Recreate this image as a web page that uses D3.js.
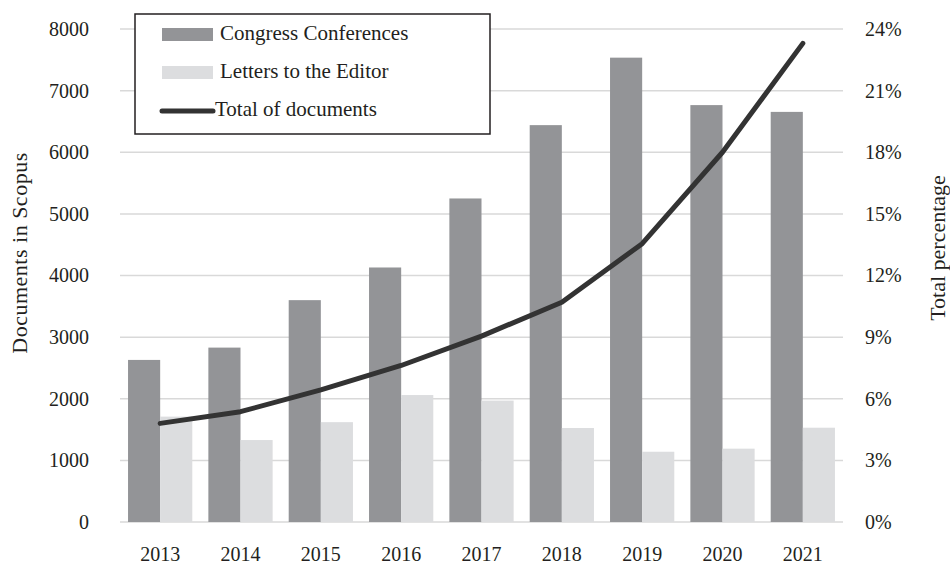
<!DOCTYPE html>
<html lang="en">
<head>
  <meta charset="UTF-8">
  <title>Documents in Scopus</title>
  <script src="https://cdn.jsdelivr.net/npm/d3@7"></script>
  <style>
    body { margin: 0; background: #fff; }
    text { font-family: "Liberation Serif", "DejaVu Serif", serif; fill: #231f20; }
    .tick text { font-size: 20px; }
    .axis-title { font-size: 22px; }
    .legend-text { font-size: 21px; }
  </style>
</head>
<body>
  <div id="container"></div>
  <script>
    const years = ["2013", "2014", "2015", "2016", "2017", "2018", "2019", "2020", "2021"];
    const congress = [2630, 2830, 3600, 4130, 5250, 6440, 7535, 6765, 6655];
    const letters = [1710, 1330, 1620, 2060, 1970, 1525, 1140, 1190, 1530];
    const totalPct = [4.8, 5.37, 6.43, 7.62, 9.05, 10.7, 13.55, 18.0, 23.3];
    const leftTicks = [0, 1000, 2000, 3000, 4000, 5000, 6000, 7000, 8000];
    const rightTicks = [0, 3, 6, 9, 12, 15, 18, 21, 24];

    // colours
    const darkGrey = "#939497";
    const lightGrey = "#dcdddf";
    const gridGrey = "#d9d9d9";
    const lineColor = "#333333";

    const width = 950;
    const height = 564;
    const margin = { top: 29, right: 107, bottom: 42, left: 120 };
    const innerW = width - margin.left - margin.right;
    const innerH = height - margin.top - margin.bottom;

    const svg = d3.select("#container")
      .append("svg")
      .attr("width", width)
      .attr("height", height);

    const g = svg.append("g")
      .attr("transform", `translate(${margin.left},${margin.top})`);

    // scales
    const x = d3.scaleBand().domain(years).range([0, innerW]).padding(0);
    const sub = d3.scaleBand().domain(["c", "l"]).range([0, x.bandwidth()]).paddingInner(0).paddingOuter(0.25);
    const yLeft = d3.scaleLinear().domain([0, 8000]).range([innerH, 0]);
    const yRight = d3.scaleLinear().domain([0, 24]).range([innerH, 0]);

    // gridlines
    g.append("g")
      .selectAll("line")
      .data(leftTicks)
      .enter()
      .append("line")
      .attr("x1", 0)
      .attr("x2", innerW)
      .attr("y1", d => yLeft(d))
      .attr("y2", d => yLeft(d))
      .attr("stroke", gridGrey)
      .attr("stroke-width", 1.5);

    // bars
    const groups = g.selectAll(".year")
      .data(years)
      .enter()
      .append("g")
      .attr("class", "year")
      .attr("transform", d => `translate(${x(d)},0)`);

    groups.append("rect")
      .attr("x", sub("c"))
      .attr("width", sub.bandwidth())
      .attr("y", (d, i) => yLeft(congress[i]))
      .attr("height", (d, i) => innerH - yLeft(congress[i]))
      .attr("fill", darkGrey);

    groups.append("rect")
      .attr("x", sub("l"))
      .attr("width", sub.bandwidth())
      .attr("y", (d, i) => yLeft(letters[i]))
      .attr("height", (d, i) => innerH - yLeft(letters[i]))
      .attr("fill", lightGrey);

    // line
    const line = d3.line()
      .x((d, i) => x(years[i]) + x.bandwidth() / 2)
      .y(d => yRight(d));

    g.append("path")
      .datum(totalPct)
      .attr("d", line)
      .attr("fill", "none")
      .attr("stroke", lineColor)
      .attr("stroke-width", 5)
      .attr("stroke-linecap", "round")
      .attr("stroke-linejoin", "round");

    // axes
    const leftAxis = g.append("g")
      .call(d3.axisLeft(yLeft).tickValues(leftTicks).tickSize(0).tickPadding(31).tickFormat(d3.format("d")));
    leftAxis.select(".domain").remove();

    const rightAxis = g.append("g")
      .attr("transform", `translate(${innerW},0)`)
      .call(d3.axisRight(yRight).tickValues(rightTicks).tickSize(0).tickPadding(22).tickFormat(d => d + "%"));
    rightAxis.select(".domain").remove();

    const bottomAxis = g.append("g")
      .attr("transform", `translate(0,${innerH})`)
      .call(d3.axisBottom(x).tickSize(0).tickPadding(25));
    bottomAxis.select(".domain").remove();

    svg.selectAll(".tick text").attr("fill", "#231f20");

    // axis titles
    svg.append("text")
      .attr("class", "axis-title")
      .attr("transform", "rotate(-90)")
      .attr("x", -253)
      .attr("y", 27)
      .attr("text-anchor", "middle")
      .style("letter-spacing", "0.5px")
      .text("Documents in Scopus");

    svg.append("text")
      .attr("class", "axis-title")
      .attr("transform", "rotate(-90)")
      .attr("x", -248)
      .attr("y", 945)
      .attr("text-anchor", "middle")
      .text("Total percentage");

    // legend
    const legend = svg.append("g")
      .attr("transform", "translate(135,14)");

    legend.append("rect")
      .attr("width", 355)
      .attr("height", 120)
      .attr("fill", "#fff")
      .attr("stroke", "#231f20")
      .attr("stroke-width", 1.5);

    legend.append("rect")
      .attr("x", 27).attr("y", 14)
      .attr("width", 51).attr("height", 13)
      .attr("fill", darkGrey);
    legend.append("text")
      .attr("class", "legend-text")
      .attr("x", 85).attr("y", 21)
      .attr("dominant-baseline", "middle")
      .text("Congress Conferences");

    legend.append("rect")
      .attr("x", 27).attr("y", 52)
      .attr("width", 51).attr("height", 13)
      .attr("fill", lightGrey);
    legend.append("text")
      .attr("class", "legend-text")
      .attr("x", 85).attr("y", 59)
      .attr("dominant-baseline", "middle")
      .text("Letters to the Editor");

    legend.append("line")
      .attr("x1", 27).attr("x2", 78)
      .attr("y1", 97).attr("y2", 97)
      .attr("stroke", lineColor)
      .attr("stroke-width", 5)
      .attr("stroke-linecap", "round");
    legend.append("text")
      .attr("class", "legend-text")
      .attr("x", 80).attr("y", 97)
      .attr("dominant-baseline", "middle")
      .text("Total of documents");
  </script>
</body>
</html>
